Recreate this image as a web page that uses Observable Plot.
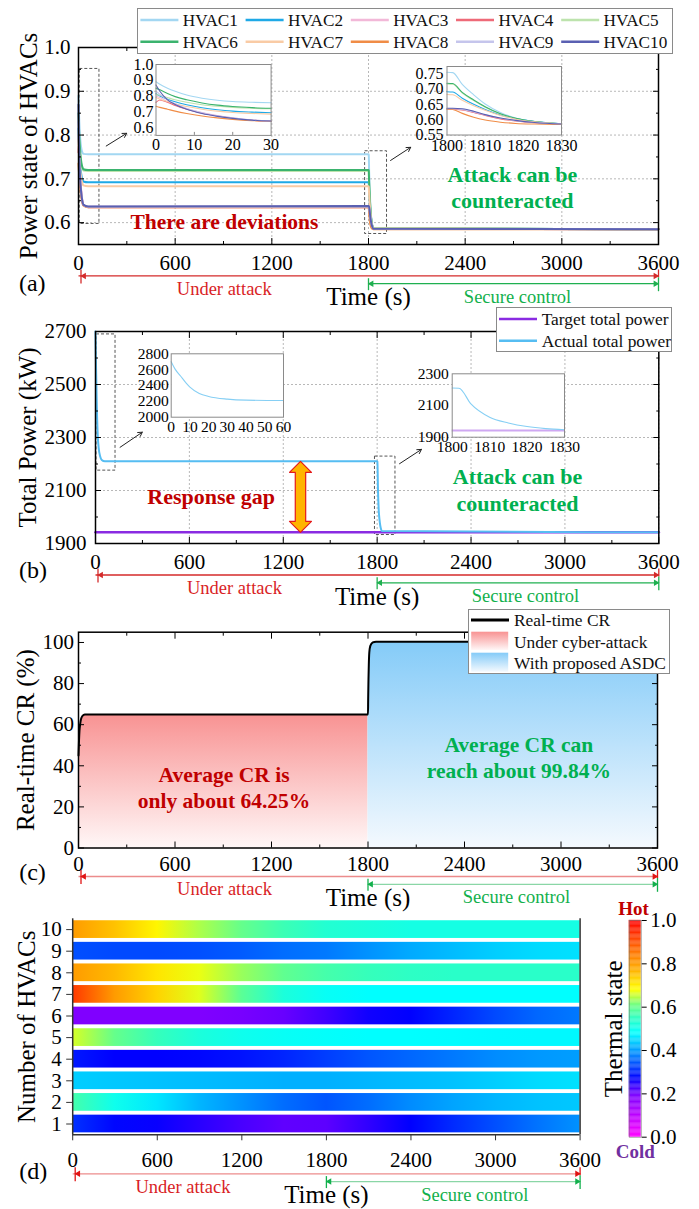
<!DOCTYPE html>
<html><head><meta charset="utf-8">
<script src="https://cdn.jsdelivr.net/npm/d3@7"></script>
<script src="https://cdn.jsdelivr.net/npm/@observablehq/plot@0.6"></script>
<style>
body{margin:0;background:#fff;}
#page{position:relative;width:699px;height:1209px;overflow:hidden;font-family:"Liberation Serif","Times New Roman",Times,serif;color:#111;}
#page text{font-family:"Liberation Serif","Times New Roman",Times,serif;}
.legend{position:absolute;background:#fff;border:1px solid #8a8a8a;box-sizing:border-box;}
</style></head><body><div id="page"></div>
<script>
// ================= DATA =================
const hvacNames = ["HVAC1","HVAC2","HVAC3","HVAC4","HVAC5","HVAC6","HVAC7","HVAC8","HVAC9","HVAC10"];
const hvacColors = ["#a3d7f2","#1fa9e6","#f2b8d8","#ee6a78","#bde3ad","#3bb36e","#f9cba5","#f08c46","#c5c5ec","#5a60b2"];
const tA = [0,1,3,5,8,12,16,20,25,30,60,1800,1801.5,1804,1807,1810,1814,1818,1823,1830,3600];
const hvac1  = [0.89,0.875,0.85,0.83,0.806,0.786,0.773,0.765,0.760,0.757,0.756,0.756,0.755,0.716,0.682,0.652,0.624,0.606,0.594,0.587,0.585];
const hvac2  = [0.815,0.80,0.78,0.764,0.745,0.726,0.713,0.704,0.698,0.694,0.692,0.692,0.691,0.671,0.651,0.634,0.616,0.604,0.594,0.587,0.585];
const hvac3  = [0.80,0.79,0.765,0.745,0.72,0.695,0.676,0.661,0.648,0.641,0.636,0.636,0.636,0.633,0.625,0.615,0.604,0.597,0.591,0.586,0.585];
const hvac4  = [0.76,0.775,0.76,0.74,0.716,0.691,0.673,0.659,0.646,0.640,0.635,0.635,0.635,0.632,0.624,0.614,0.603,0.596,0.590,0.586,0.585];
const hvac5  = [0.81,0.805,0.79,0.776,0.76,0.745,0.735,0.728,0.722,0.719,0.718,0.718,0.717,0.688,0.663,0.641,0.619,0.604,0.593,0.587,0.585];
const hvac6  = [0.85,0.84,0.816,0.796,0.776,0.756,0.742,0.733,0.726,0.722,0.720,0.720,0.719,0.690,0.665,0.643,0.620,0.605,0.594,0.587,0.585];
const hvac7  = [0.79,0.78,0.765,0.75,0.733,0.716,0.704,0.695,0.689,0.685,0.683,0.683,0.682,0.664,0.646,0.631,0.614,0.602,0.593,0.587,0.585];
const hvac8  = [0.735,0.728,0.716,0.704,0.689,0.673,0.661,0.652,0.644,0.639,0.635,0.635,0.634,0.621,0.608,0.599,0.592,0.588,0.586,0.585,0.585];
const hvac9  = [0.83,0.81,0.776,0.751,0.721,0.694,0.675,0.661,0.648,0.641,0.636,0.636,0.636,0.634,0.626,0.616,0.605,0.597,0.591,0.586,0.585];
const hvac10 = [0.87,0.83,0.776,0.746,0.716,0.689,0.671,0.658,0.647,0.641,0.637,0.638,0.638,0.636,0.628,0.617,0.606,0.598,0.591,0.586,0.585];
const hvacVals = [hvac1,hvac2,hvac3,hvac4,hvac5,hvac6,hvac7,hvac8,hvac9,hvac10];

const powerSeries = ["Target total power","Actual total power"];
const powerColors = ["#8a2be2","#56bdf2"];
const tB = [0,2,5,8,10,15,20,30,40,60,1800,1801.8,1805,1810,1815,1820,1825,1830,3600];
const actualPower = [2700,2610,2520,2430,2380,2300,2262,2228,2215,2210,2210,2209,2110,2026,1990,1967,1954,1947,1942];
const targetT = [0,3600];
const targetPower = [1942,1942];

const crLegend = ["Real-time CR","Under cyber-attack","With proposed ASDC"];
const tC = [0,3,6,10,15,25,40,60,1800,1801,1803,1805,1808,1815,1830,1850,3600];
const crVals = [45,52,57,60,62.5,64.3,64.9,65,65,72,82,89,95,98.5,100,100.4,100.4];

const tD = [0,300,600,900,1200,1500,1800,2100,2400,2700,3000,3300,3600];
const thermal1  = [0.31,0.275,0.265,0.245,0.225,0.21,0.212,0.24,0.27,0.305,0.335,0.365,0.39];
const thermal2  = [0.57,0.5,0.46,0.42,0.39,0.36,0.34,0.36,0.385,0.405,0.42,0.43,0.435];
const thermal3  = [0.44,0.435,0.43,0.425,0.42,0.415,0.415,0.42,0.425,0.43,0.44,0.45,0.455];
const thermal4  = [0.29,0.27,0.27,0.275,0.285,0.3,0.32,0.34,0.355,0.37,0.385,0.395,0.40];
const thermal5  = [0.66,0.6,0.555,0.52,0.5,0.49,0.485,0.48,0.48,0.478,0.476,0.475,0.475];
const thermal6  = [0.19,0.19,0.19,0.19,0.195,0.205,0.23,0.26,0.27,0.3,0.33,0.355,0.37];
const thermal7  = [0.93,0.8,0.73,0.665,0.59,0.52,0.49,0.48,0.48,0.48,0.48,0.48,0.48];
const thermal8  = [0.80,0.76,0.71,0.67,0.63,0.595,0.57,0.555,0.545,0.54,0.54,0.54,0.54];
const thermal9  = [0.335,0.33,0.33,0.335,0.345,0.36,0.37,0.39,0.41,0.425,0.44,0.45,0.455];
const thermal10 = [0.80,0.75,0.69,0.64,0.6,0.56,0.53,0.52,0.51,0.51,0.51,0.51,0.51];
const thermalRows = [thermal1,thermal2,thermal3,thermal4,thermal5,thermal6,thermal7,thermal8,thermal9,thermal10];

const timeTicks = [0,600,1200,1800,2400,3000,3600];
const timeMinor = [300,900,1500,2100,2700,3300];
const phaseT = [0,1800,3600];
const phaseLabels = ["Under attack","Secure control"];

const heatDomain = [0,0.19,0.27,0.34,0.41,0.48,0.55,0.61,0.68,0.77,0.86,1];
const heatRange = ["#ff00ff","#8000ff","#0000ff","#0055ff","#00aaff","#00ffff","#30ffc0","#70ff80","#ffff00","#ffb000","#ff7000","#ff0000"];
const thermalTicks = [0,0.2,0.4,0.6,0.8,1.0];

// ================= HELPERS =================
const W = 699, H = 1209;
const page = document.getElementById("page");
const FONT = "Liberation Serif";
const STYLE = {fontFamily: FONT, fontSize: "21px", background: "transparent", overflow: "visible", color: "#000"};
const RED_D = "#c00000", GREEN = "#00b050", RED_T = "#d91e25", GREEN_T = "#12b04c";
const T = (data, o) => Plot.text(data, {fontFamily: FONT, text: d => d, ...o});

function mkPlot(f, marks, extra = {}) {
  const svg = Plot.plot({
    width: W, height: H,
    marginLeft: f.L, marginRight: W - f.R, marginTop: f.T, marginBottom: H - f.B,
    x: {domain: f.x, axis: null}, y: {domain: f.y, axis: null},
    style: STYLE, marks, ...extra
  });
  svg.style.position = "absolute"; svg.style.left = "0px"; svg.style.top = "0px";
  page.appendChild(svg);
  return svg;
}
const pxToY = (f, px) => f.y[1] - (px - f.T) / (f.B - f.T) * (f.y[1] - f.y[0]);
const dxToX = (f, d) => d / (f.R - f.L) * (f.x[1] - f.x[0]);
const dyToY = (f, d) => d / (f.B - f.T) * (f.y[1] - f.y[0]);
const noLabel = () => "";

function boxTicks(xMaj, xMin, yMaj, yMin, len, minLen, color = "#000") {
  const o = (a, s) => ({anchor: a, tickSize: -s, tickFormat: noLabel, label: null, stroke: color});
  const m = [];
  for (const a of ["bottom", "top"]) { m.push(Plot.axisX(xMaj, o(a, len))); if (xMin.length) m.push(Plot.axisX(xMin, o(a, minLen))); }
  for (const a of ["left", "right"]) { m.push(Plot.axisY(yMaj, o(a, len))); if (yMin.length) m.push(Plot.axisY(yMin, o(a, minLen))); }
  return m;
}
function tickLabels(xMaj, yMaj, xPad, yPad, yFmt, fs) {
  return [
    Plot.axisX(xMaj, {anchor: "bottom", tickSize: 0, tickPadding: xPad, tickFormat: "d", fontSize: fs, fontFamily: FONT, fontVariant: "normal", label: null}),
    Plot.axisY(yMaj, {anchor: "left", tickSize: 0, tickPadding: yPad, tickFormat: yFmt, fontSize: fs, fontFamily: FONT, fontVariant: "normal", label: null})
  ];
}
function grid(xs, ys) {
  const g = {stroke: "#9a9a9a", strokeOpacity: 1, strokeWidth: 0.7, strokeDasharray: "2,2"};
  return [Plot.gridX(xs, g), Plot.gridY(ys, g)];
}
function attackStrip(f, o) {
  const Y = px => pxToY(f, px);
  const R = o.R, G = R + 7.8;
  const [t0, t1, t2] = phaseT;
  const tri = (t, y, rot, fill, dx) => Plot.dot([t], {x: d => d, y, symbol: "triangle", rotate: rot, r: 2.4, fill, stroke: "none", dx});
  return [
    Plot.link([0], {x1: t0, x2: t2, y1: Y(R), y2: Y(R), stroke: o.redLine, strokeWidth: 1.3}),
    Plot.link([0], {x1: t1, x2: t2, y1: Y(G), y2: Y(G), stroke: o.greenLine, strokeWidth: 1.3}),
    Plot.ruleX([t0], {x: d => d, y1: Y(R - 6), y2: Y(R + 8), stroke: o.redBar, strokeWidth: 1.3, dx: 2.5}),
    Plot.ruleX([t2], {x: d => d, y1: Y(R - 6), y2: Y(R + 2), stroke: o.redBar, strokeWidth: 1.3}),
    Plot.ruleX([t1], {x: d => d, y1: Y(G - 5), y2: Y(G + 7), stroke: o.greenBar, strokeWidth: 1.3}),
    Plot.ruleX([t2], {x: d => d, y1: Y(R + 2), y2: Y(G + 8), stroke: o.greenBar, strokeWidth: 1.3}),
    tri(t0, Y(R), -90, o.redBar, 5.5), tri(t2, Y(R), 90, o.redBar, -3),
    tri(t1, Y(G), -90, o.greenBar, 3), tri(t2, Y(G), 90, o.greenBar, -3),
    T([phaseLabels[0]], {x: o.uaX, y: Y(R + 13), fill: RED_T, fontSize: 18.5}),
    T([phaseLabels[1]], {x: o.scX, y: Y(R + 21), fill: GREEN_T, fontSize: 18.5}),
    T(["Time (s)"], {x: t1, y: Y(R + 21.5), fontSize: 25})
  ];
}
function yTitle(f, s, cx) {
  return T([s], {frameAnchor: "left", dx: cx - f.L, rotate: -90, fontSize: 25, textAnchor: "middle", lineAnchor: "middle"});
}
function panelLetter(f, s, cx, cy) {
  return T([s], {frameAnchor: "bottom-left", dx: cx - f.L, dy: cy - f.B, fontSize: 24, textAnchor: "middle", lineAnchor: "middle"});
}
function addLegend(left, top, w, h, inner) {
  const d = document.createElement("div");
  d.className = "legend";
  Object.assign(d.style, {left: left + "px", top: top + "px", width: w + "px", height: h + "px"});
  d.innerHTML = `<svg width="${w}" height="${h}" style="position:absolute;left:-1px;top:-1px;overflow:visible;font-family:'Liberation Serif'">${inner}</svg>`;
  page.appendChild(d);
}

// color scale for thermal state
const heat = Plot.scale({color: {type: "linear", domain: heatDomain, range: heatRange, interpolate: "rgb"}});

// gradient defs
{
  let defs = `<linearGradient id="gRed" x1="0" y1="0" x2="0" y2="1"><stop offset="0" stop-color="#f89292"/><stop offset="1" stop-color="#fff7f7"/></linearGradient>
  <linearGradient id="gBlue" x1="0" y1="0" x2="0" y2="1"><stop offset="0" stop-color="#84cbf8"/><stop offset="1" stop-color="#f4f9fe"/></linearGradient>`;
  const span = tD[tD.length - 1] - tD[0];
  thermalRows.forEach((row, i) => {
    defs += `<linearGradient id="heat${i + 1}" x1="0" y1="0" x2="1" y2="0">` +
      row.map((v, j) => `<stop offset="${(tD[j] - tD[0]) / span}" stop-color="${heat.apply(v)}"/>`).join("") + `</linearGradient>`;
  });
  const s = document.createElementNS("http://www.w3.org/2000/svg", "svg");
  s.setAttribute("width", "0"); s.setAttribute("height", "0");
  s.style.position = "absolute";
  s.innerHTML = `<defs>${defs}</defs>`;
  page.appendChild(s);
}

// ================= PANEL (a) =================
const FA = {L: 78, T: 47, R: 658, B: 244, x: [0, 3600], y: [0.55, 1.0]};
const rowsA = hvacNames.flatMap((n, i) => tA.map((t, j) => ({t, v: hvacVals[i][j], name: n})));
const colorA = {domain: hvacNames, range: hvacColors};
const zoomBoxA = [{x1: 8, x2: 130, y1: 0.597, y2: 0.951}, {x1: 1779, x2: 1915, y1: 0.574, y2: 0.763}];
const pointerA = [{x1: 172, y1: 0.775, x2: 299, y2: 0.804}, {x1: 1937, y1: 0.742, x2: 2062, y2: 0.772}];
mkPlot(FA, [
  ...grid(timeTicks, [0.6, 0.7, 0.8, 0.9, 1.0]),
  Plot.rect(zoomBoxA, {x1: "x1", x2: "x2", y1: "y1", y2: "y2", fill: "none", stroke: "#555", strokeDasharray: "3,2", strokeWidth: 1}),
  Plot.line(rowsA, {x: "t", y: "v", z: "name", stroke: "name", strokeWidth: 2, curve: "monotone-x"}),
  Plot.frame({stroke: "#000", strokeWidth: 1.5}),
  ...boxTicks(timeTicks, timeMinor, [0.6, 0.7, 0.8, 0.9, 1.0], [0.55, 0.65, 0.75, 0.85, 0.95], 6, 3),
  ...tickLabels(timeTicks, [0.6, 0.7, 0.8, 0.9, 1.0], 11, 8, ".1f", 21),
  Plot.arrow(pointerA, {x1: "x1", y1: "y1", x2: "x2", y2: "y2", stroke: "#222", strokeWidth: 1, headLength: 7}),
  T(["There are deviations"], {x: 906, y: 0.601, fill: RED_D, fontWeight: "bold", fontSize: 21.5}),
  T(["Attack can be\ncounteracted"], {x: 2693, y: 0.6827, fill: GREEN, fontWeight: "bold", fontSize: 22, lineHeight: 1.21}),
  ...attackStrip(FA, {R: 275.4, uaX: 905, scX: 2725, redLine: "#d42a2a", greenLine: "#1fb050", redBar: "#d42a2a", greenBar: "#1fb050"}),
  yTitle(FA, "Power state of HVACs", 28),
  panelLetter(FA, "(a)", 31.7, 283.3)
], {color: colorA});

// inset a1
const FA1 = {L: 155.5, T: 64, R: 270.6, B: 134.9, x: [0, 30], y: [0.55, 1.0]};
mkPlot(FA1, [
  Plot.frame({fill: "white", stroke: "none"}),
  Plot.line(rowsA.filter(d => d.t <= 30), {x: "t", y: "v", z: "name", stroke: "name", strokeWidth: 1.1, curve: "monotone-x"}),
  Plot.frame({stroke: "#8a8a8a", strokeWidth: 1}),
  Plot.axisX([10, 20], {anchor: "bottom", tickSize: -3, tickFormat: noLabel, label: null, stroke: "#888"}),
  ...tickLabels([0, 10, 20, 30], [0.6, 0.7, 0.8, 0.9, 1.0], 3.5, 2.5, ".1f", 16)
], {color: colorA});

// inset a2
const FA2 = {L: 446.5, T: 66, R: 561, B: 134.5, x: [1800, 1830], y: [0.55, 0.775]};
mkPlot(FA2, [
  Plot.frame({fill: "white", stroke: "none"}),
  Plot.line(rowsA.filter(d => d.t >= 1800 && d.t <= 1830), {x: "t", y: "v", z: "name", stroke: "name", strokeWidth: 1.1, curve: "monotone-x"}),
  Plot.frame({stroke: "#8a8a8a", strokeWidth: 1}),
  ...tickLabels([1800, 1810, 1820, 1830], [0.55, 0.6, 0.65, 0.7, 0.75], 4.4, 3.4, ".2f", 16)
], {color: colorA});

// legend a
{
  let inner = "";
  hvacNames.forEach((n, i) => {
    const col = i % 5, row = Math.floor(i / 5);
    const x0 = 3.4 + col * 105.2, y0 = row === 0 ? 12 : 33.7;
    inner += `<line x1="${x0}" x2="${x0 + 38}" y1="${y0}" y2="${y0}" stroke="${hvacColors[i]}" stroke-width="2.5"/>`;
    inner += `<text x="${x0 + 42.4}" y="${y0}" dy="0.35em" font-size="17.2" fill="#111">${n}</text>`;
  });
  addLegend(137, 8, 536, 46, inner);
}

// ================= PANEL (b) =================
const FB = {L: 95, T: 331, R: 658.3, B: 543, x: [0, 3600], y: [1900, 2700]};
const actualRows = tB.map((t, i) => ({t, v: actualPower[i]}));
const targetRows = targetT.map((t, i) => ({t, v: targetPower[i]}));
const zoomBoxB = [{x1: 6.4, x2: 128, y1: 2175, y2: 2689}, {x1: 1786, x2: 1917, y1: 1932, y2: 2228}];
const pointerB = [{x1: 157, y1: 2263, x2: 299, y2: 2320}, {x1: 1943, y1: 2201, x2: 2083, y2: 2255}];
const gapT = 1310;
const gapTop = actualPower[tB.indexOf(1800)], gapBot = targetPower[0];
const hw = dxToX(FB, 11), sw = dxToX(FB, 5.2), hh = dyToY(FB, 11);
const gapArrow = [[0, gapTop], [hw, gapTop - hh], [sw, gapTop - hh], [sw, gapBot + hh], [hw, gapBot + hh], [0, gapBot],
  [-hw, gapBot + hh], [-sw, gapBot + hh], [-sw, gapTop - hh], [-hw, gapTop - hh], [0, gapTop]].map(([dx, y]) => ({x: gapT + dx, y}));
mkPlot(FB, [
  ...grid(timeTicks, [2100, 2300, 2500, 2700]),
  Plot.rect(zoomBoxB, {x1: "x1", x2: "x2", y1: "y1", y2: "y2", fill: "none", stroke: "#555", strokeDasharray: "3,2", strokeWidth: 1}),
  Plot.line(targetRows, {x: "t", y: "v", stroke: powerColors[0], strokeWidth: 2.5}),
  Plot.line(actualRows, {x: "t", y: "v", stroke: powerColors[1], strokeWidth: 2, curve: "monotone-x"}),
  Plot.frame({stroke: "#000", strokeWidth: 1.5}),
  ...boxTicks(timeTicks, timeMinor, [1900, 2100, 2300, 2500, 2700], [2000, 2200, 2400, 2600], 6, 3),
  ...tickLabels(timeTicks, [1900, 2100, 2300, 2500, 2700], 11, 9, "d", 21),
  Plot.arrow(pointerB, {x1: "x1", y1: "y1", x2: "x2", y2: "y2", stroke: "#222", strokeWidth: 1, headLength: 7}),
  Plot.line(gapArrow, {x: "x", y: "y", fill: "#ffb400", stroke: "#e41a1a", strokeWidth: 1.2}),
  T(["Response gap"], {x: 739, y: 2077, fill: RED_D, fontWeight: "bold", fontSize: 22}),
  T(["Attack can be\ncounteracted"], {x: 2697, y: 2106, fill: GREEN, fontWeight: "bold", fontSize: 22, lineHeight: 1.21}),
  ...attackStrip(FB, {R: 574.5, uaX: 888, scX: 2748, redLine: "#d42a2a", greenLine: "#1fb050", redBar: "#d42a2a", greenBar: "#1fb050"}),
  yTitle(FB, "Total Power (kW)", 27.5),
  panelLetter(FB, "(b)", 32.5, 570)
]);

// inset b1
const FB1 = {L: 170.7, T: 353.3, R: 283, B: 416.7, x: [0, 60], y: [2000, 2800]};
mkPlot(FB1, [
  Plot.frame({fill: "white", stroke: "none"}),
  Plot.line(actualRows.filter(d => d.t <= 60), {x: "t", y: "v", stroke: "#86cff4", strokeWidth: 1.1, curve: "monotone-x"}),
  Plot.frame({stroke: "#8a8a8a", strokeWidth: 1}),
  ...tickLabels([0, 10, 20, 30, 40, 50, 60], [2000, 2200, 2400, 2600, 2800], 3.7, 2.4, "d", 15.5)
]);
// inset b2
const FB2 = {L: 451.7, T: 373.3, R: 564, B: 436.7, x: [1800, 1830], y: [1900, 2300]};
mkPlot(FB2, [
  Plot.frame({fill: "white", stroke: "none"}),
  Plot.line(targetRows, {x: "t", y: "v", stroke: "#cfa8f2", strokeWidth: 2, clip: true}),
  Plot.line(actualRows.filter(d => d.t >= 1800 && d.t <= 1830), {x: "t", y: "v", stroke: "#86cff4", strokeWidth: 1.1, curve: "monotone-x"}),
  Plot.frame({stroke: "#8a8a8a", strokeWidth: 1}),
  ...tickLabels([1800, 1810, 1820, 1830], [1900, 2100, 2300], 3.7, 3.4, "d", 15.5)
]);
// legend b
{
  let inner = "";
  powerSeries.forEach((n, i) => {
    const y0 = i === 0 ? 12 : 33.7;
    inner += `<line x1="3" x2="41" y1="${y0}" y2="${y0}" stroke="${powerColors[i]}" stroke-width="2.5"/>`;
    inner += `<text x="45.7" y="${y0}" dy="0.35em" font-size="17.4" fill="#111">${n}</text>`;
  });
  addLegend(496, 307, 176, 45, inner);
}

// ================= PANEL (c) =================
const FC = {L: 78, T: 631.7, R: 657, B: 847.5, x: [0, 3600], y: [0, 105]};
const crRows = tC.map((t, i) => ({t, v: crVals[i]}));
mkPlot(FC, [
  Plot.areaY(crRows.filter(d => d.t <= phaseT[1]), {x: "t", y: "v", fill: "url(#gRed)", curve: "monotone-x"}),
  Plot.areaY(crRows.filter(d => d.t >= phaseT[1]), {x: "t", y: "v", fill: "url(#gBlue)", curve: "monotone-x"}),
  Plot.line(crRows, {x: "t", y: "v", stroke: "#000", strokeWidth: 2, curve: "monotone-x"}),
  Plot.frame({stroke: "#000", strokeWidth: 1.5}),
  ...boxTicks(timeTicks, timeMinor, [0, 20, 40, 60, 80, 100], [10, 30, 50, 70, 90], 6, 3),
  ...tickLabels(timeTicks, [0, 20, 40, 60, 80, 100], 8, 4.5, "d", 21),
  T(["Average CR is\nonly about 64.25%"], {x: 905, y: 29.8, fill: RED_D, fontWeight: "bold", fontSize: 21.5, lineHeight: 1.22}),
  T(["Average CR can\nreach about 99.84%"], {x: 2738, y: 44.3, fill: GREEN, fontWeight: "bold", fontSize: 21.5, lineHeight: 1.22}),
  ...attackStrip(FC, {R: 876, uaX: 908, scX: 2723, redLine: "#ec8c8c", greenLine: "#8ad6a6", redBar: "#e01414", greenBar: "#12b04c"}),
  yTitle(FC, "Real-time CR (%)", 25.6),
  panelLetter(FC, "(c)", 32, 872)
]);
// legend c
{
  const inner = `<line x1="3" x2="41" y1="11" y2="11" stroke="#000" stroke-width="3"/>
   <text x="46" y="11" dy="0.35em" font-size="17.4" fill="#111">${crLegend[0]}</text>
   <rect x="3.2" y="22.7" width="37" height="18.3" fill="url(#gRed)"/>
   <text x="46" y="32.7" dy="0.35em" font-size="17.4" fill="#111">${crLegend[1]}</text>
   <rect x="3.2" y="43.7" width="37" height="19" fill="url(#gBlue)"/>
   <text x="46" y="53.7" dy="0.35em" font-size="17.4" fill="#111">${crLegend[2]}</text>`;
  addLegend(468, 609, 202, 65, inner);
}

// ================= PANEL (d) =================
const FD = {L: 72.2, T: 918.3, R: 579.6, B: 1134.3, x: [0, 3600], y: [0.5, 10.5]};
const hvacIds = hvacNames.map((n, i) => i + 1);
mkPlot(FD, [
  ...hvacIds.map(id => Plot.rect([id], {x1: tD[0], x2: tD[tD.length - 1], y1: d => d - 0.41, y2: d => d + 0.41, fill: `url(#heat${id})`})),
  Plot.ruleX(FD.x, {stroke: "#333", strokeWidth: 1.5}),
  Plot.ruleY([FD.y[0]], {stroke: "#333", strokeWidth: 1.5}),
  Plot.axisY(hvacIds, {anchor: "left", tickSize: 6, tickPadding: 5, tickFormat: "d", fontSize: 21, fontFamily: FONT, fontVariant: "normal", label: null, stroke: "#333"}),
  Plot.axisX(timeTicks, {anchor: "bottom", tickSize: 6, tickPadding: 11, tickFormat: "d", fontSize: 21, fontFamily: FONT, fontVariant: "normal", label: null, stroke: "#333"}),
  ...attackStrip(FD, {R: 1173.3, uaX: 782, scX: 2853, redLine: "#ec8c8c", greenLine: "#8ad6a6", redBar: "#e01414", greenBar: "#12b04c"}),
  yTitle(FD, "Number of HVACs", 26.7),
  panelLetter(FD, "(d)", 32.7, 1170.8)
]);

// colorbar
const FCB = {L: 628.7, T: 920, R: 640.7, B: 1136.7, x: [0, 1], y: [0, 1]};
const ramp = d3.range(0, 1, 0.004);
mkPlot(FCB, [
  Plot.rect(ramp, {x1: 0, x2: 1, y1: d => d, y2: d => d + 0.0048, fill: d => d + 0.002}),
  Plot.frame({stroke: "#777", strokeWidth: 0.6}),
  Plot.axisY(thermalTicks, {anchor: "right", tickSize: 5, tickPadding: 4, tickFormat: ".1f", fontSize: 21, fontFamily: FONT, fontVariant: "normal", label: null}),
  T(["Hot"], {frameAnchor: "top", dy: -11.7, dx: -1.7, fill: RED_D, fontWeight: "bold", fontSize: 19, textAnchor: "middle", lineAnchor: "middle"}),
  T(["Cold"], {frameAnchor: "bottom", dy: 15, fill: "#7030a0", fontWeight: "bold", fontSize: 19, textAnchor: "middle", lineAnchor: "middle"}),
  T(["Thermal state"], {frameAnchor: "left", dx: -15.7, rotate: -90, fontSize: 25, textAnchor: "middle", lineAnchor: "middle"})
], {color: {type: "linear", domain: heatDomain, range: heatRange, interpolate: "rgb"}});
</script></body></html>
